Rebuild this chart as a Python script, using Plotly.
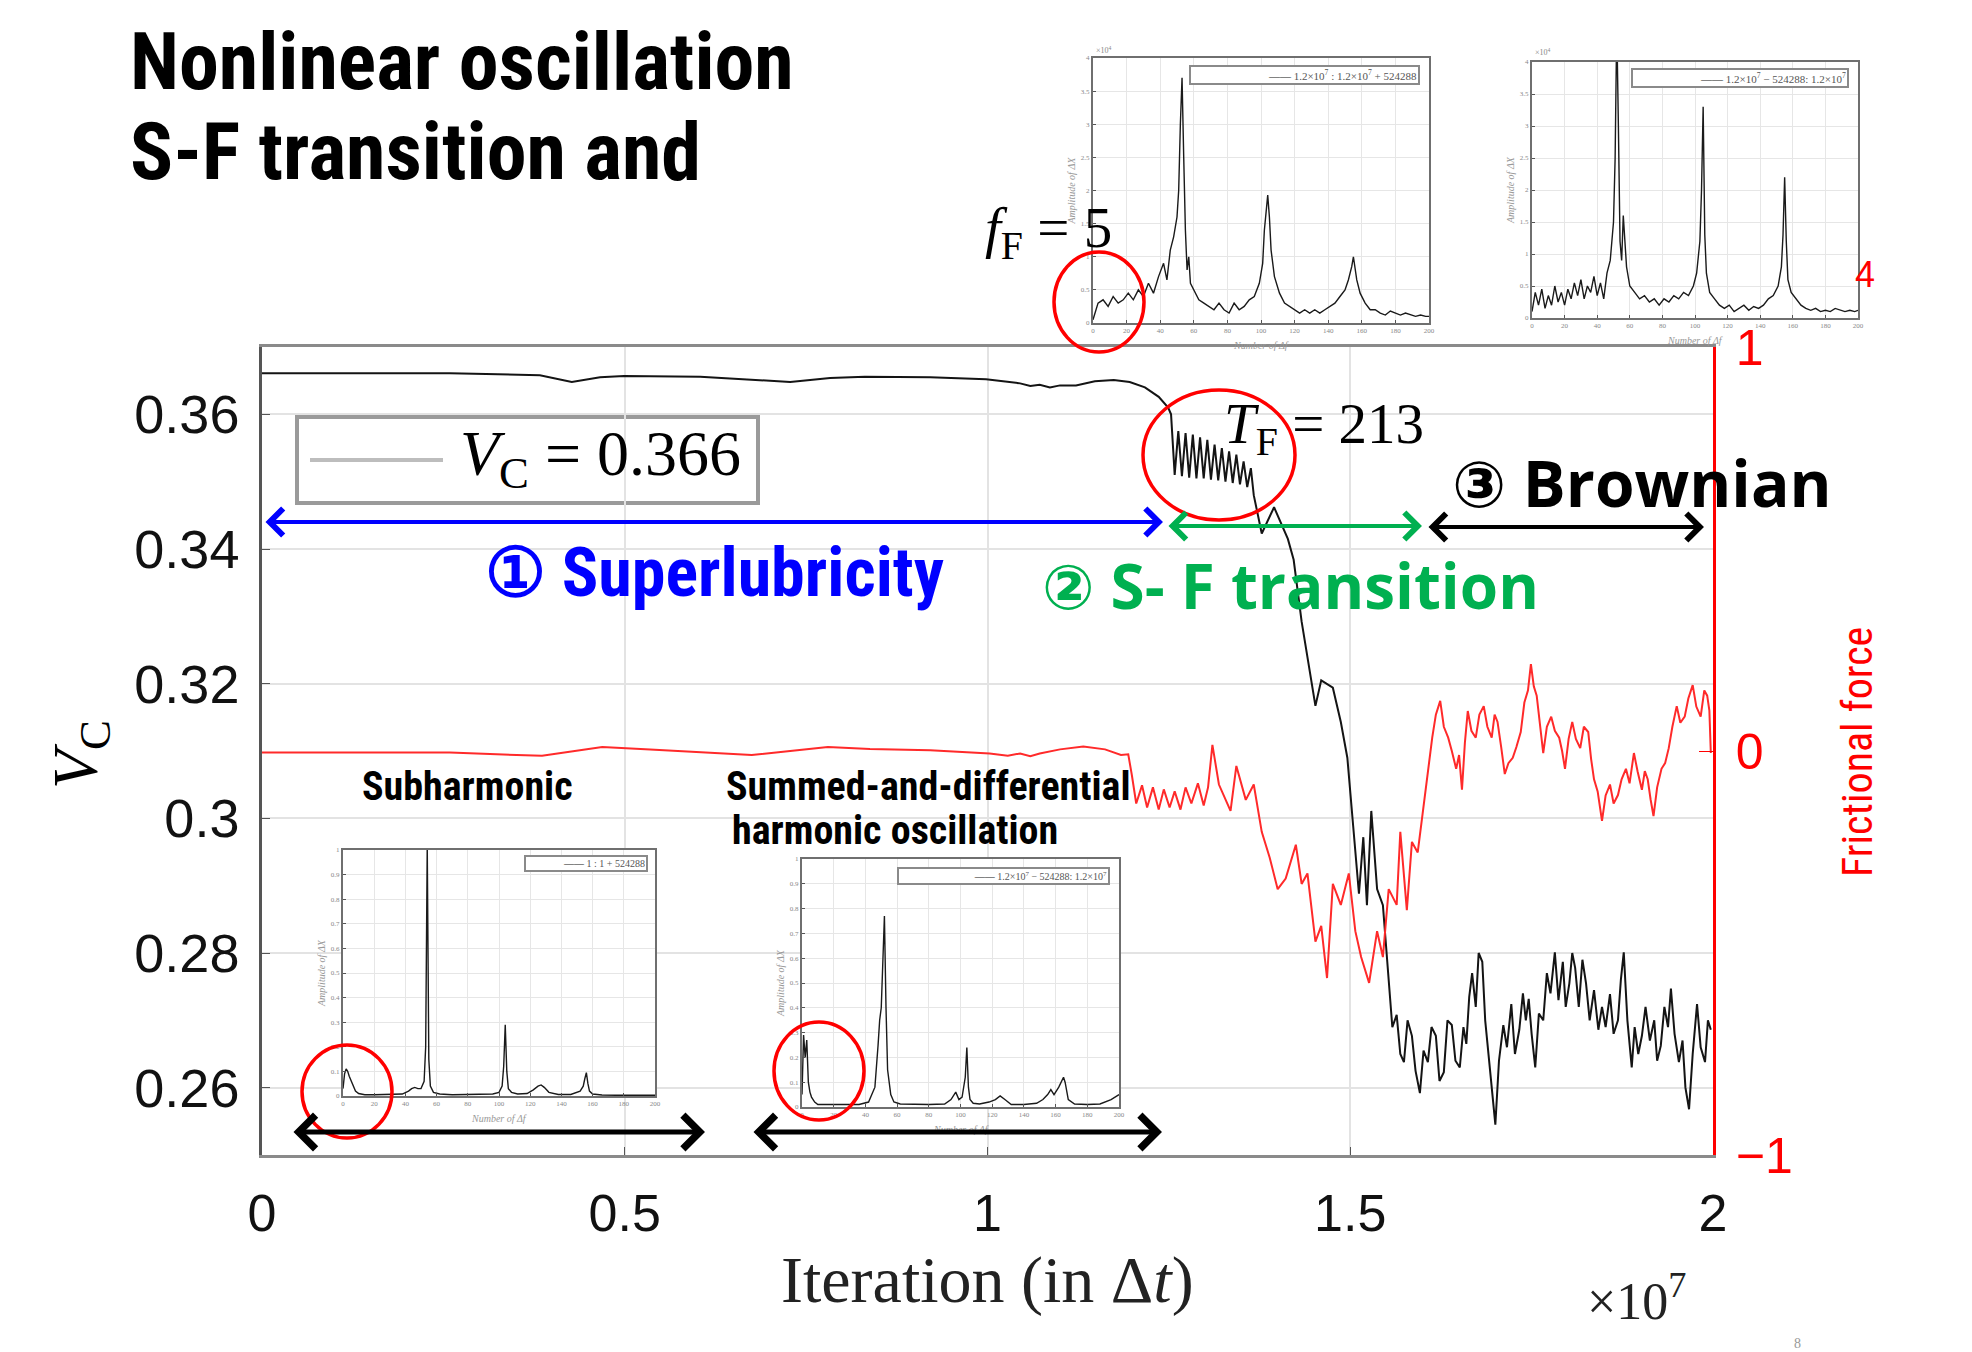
import plotly.graph_objects as go

W, H = 1972, 1352

# ---------------- data ----------------
# main time series: iteration in units of 1e7
vc_iter = [0, 0.259, 0.383, 0.427, 0.466, 0.499, 0.604, 0.673, 0.728, 0.783, 0.831, 0.921, 0.998, 1.045, 1.059, 1.072,
           1.086, 1.100, 1.122, 1.148, 1.174, 1.196, 1.217, 1.236, 1.249,
           1.253, 1.258, 1.263, 1.268, 1.273, 1.278, 1.283, 1.288, 1.293, 1.298, 1.303, 1.308, 1.313, 1.318, 1.323,
           1.328, 1.333, 1.338, 1.343, 1.348, 1.353, 1.358, 1.363, 1.367,
           1.378, 1.395, 1.414, 1.422, 1.433, 1.439, 1.452, 1.460, 1.476, 1.487, 1.496, 1.504, 1.512, 1.518, 1.523,
           1.529, 1.537, 1.545,
           1.553, 1.558, 1.564, 1.569, 1.574, 1.579, 1.585, 1.590, 1.596, 1.601, 1.607, 1.612, 1.618, 1.623, 1.629,
           1.634, 1.640, 1.645, 1.651, 1.656, 1.660, 1.664, 1.668, 1.673, 1.677, 1.682, 1.686, 1.691, 1.695, 1.700,
           1.705, 1.711, 1.716, 1.722, 1.727, 1.733, 1.738, 1.742, 1.746, 1.750, 1.755, 1.760, 1.766, 1.771, 1.776,
           1.782, 1.787, 1.793, 1.797, 1.802, 1.806, 1.810, 1.815, 1.820, 1.825, 1.830, 1.836, 1.842, 1.847, 1.852,
           1.858, 1.863, 1.869, 1.873, 1.877, 1.882, 1.888, 1.892, 1.897, 1.902, 1.907, 1.913, 1.919, 1.923, 1.928,
           1.933, 1.938, 1.942, 1.947, 1.953, 1.958, 1.962, 1.967, 1.972, 1.978, 1.983, 1.989, 1.993, 1.997]
vc_values = [0.3661, 0.3661, 0.3658, 0.3648, 0.3655, 0.3657, 0.3656, 0.3652, 0.3648, 0.3654, 0.3656, 0.3655, 0.3652,
             0.3646, 0.3642, 0.3644, 0.3640, 0.3643, 0.3643, 0.3649, 0.3651, 0.3648, 0.3640, 0.3626, 0.3610,
             0.3600, 0.3510, 0.3575, 0.3508, 0.3572, 0.3506, 0.3570, 0.3505, 0.3566, 0.3505, 0.3562, 0.3503, 0.3555,
             0.3502, 0.3550, 0.3500, 0.3545, 0.3498, 0.3540, 0.3496, 0.3530, 0.3492, 0.3520, 0.3480,
             0.3423, 0.3462, 0.3415, 0.3384, 0.3292, 0.3252, 0.3167, 0.3205, 0.3194, 0.3143, 0.3090, 0.2989, 0.2888,
             0.2972, 0.2871, 0.3011, 0.2895, 0.2871,
             0.2763, 0.2690, 0.2708, 0.2650, 0.2638, 0.2700, 0.2677, 0.2625, 0.2592, 0.2655, 0.2638, 0.2690, 0.2677,
             0.2610, 0.2623, 0.2700, 0.2693, 0.2640, 0.2630, 0.2690, 0.2665, 0.2735, 0.2770, 0.2720, 0.2800, 0.2787,
             0.2700, 0.2646, 0.2600, 0.2545, 0.2640, 0.2693, 0.2660, 0.2724, 0.2650, 0.2686, 0.2740, 0.2700, 0.2732,
             0.2680, 0.2630, 0.2710, 0.2700, 0.2770, 0.2740, 0.2801, 0.2730, 0.2787, 0.2720, 0.2755, 0.2800, 0.2778,
             0.2720, 0.2790, 0.2755, 0.2700, 0.2745, 0.2686, 0.2720, 0.2690, 0.2739, 0.2680, 0.2700, 0.2760, 0.2801,
             0.2700, 0.2630, 0.2690, 0.2650, 0.2677, 0.2720, 0.2670, 0.2700, 0.2640, 0.2662, 0.2720, 0.2690, 0.2747,
             0.2680, 0.2638, 0.2670, 0.2600, 0.2568, 0.2650, 0.2724, 0.2660, 0.2638, 0.2700, 0.2686]

ff_iter = [0, 0.259, 0.386, 0.425, 0.469, 0.535, 0.604, 0.675, 0.728, 0.780, 0.838, 0.921, 1.003, 1.028, 1.045,
           1.059, 1.072, 1.100, 1.132, 1.162, 1.184, 1.194, 1.199,
           1.205, 1.213, 1.220, 1.228, 1.236, 1.243, 1.251, 1.258, 1.266, 1.273, 1.281, 1.290, 1.298, 1.304,
           1.310, 1.319, 1.335, 1.343, 1.356, 1.367, 1.378, 1.389, 1.400, 1.411, 1.425, 1.433, 1.441, 1.452, 1.460,
           1.468, 1.476, 1.487, 1.498, 1.507, 1.515, 1.526, 1.537, 1.545, 1.553, 1.564, 1.569, 1.578, 1.585, 1.593,
           1.602,
           1.613, 1.618, 1.624, 1.629, 1.635, 1.640, 1.646, 1.650, 1.654, 1.658, 1.662, 1.667, 1.673, 1.678, 1.684,
           1.689, 1.695, 1.699, 1.703, 1.708, 1.713, 1.718, 1.724, 1.729, 1.735, 1.740, 1.745, 1.749, 1.753, 1.757,
           1.761, 1.766, 1.771, 1.777, 1.782, 1.788, 1.792, 1.796, 1.801, 1.806, 1.811, 1.817, 1.822, 1.828, 1.832,
           1.836, 1.841, 1.847, 1.852, 1.858, 1.863, 1.869, 1.874, 1.880, 1.885, 1.891, 1.896, 1.902, 1.906, 1.910,
           1.914, 1.918, 1.923, 1.929, 1.934, 1.939, 1.944, 1.950, 1.955, 1.961, 1.966, 1.972, 1.977, 1.983, 1.988,
           1.992, 1.995, 1.997]
ff_values = [-0.004, -0.004, -0.012, -0.002, 0.010, 0.004, -0.002, -0.010, 0.000, 0.010, 0.005, 0.002, -0.006, -0.012,
             -0.006, -0.013, -0.006, 0.004, 0.011, 0.004, -0.010, -0.008, -0.060,
             -0.130, -0.085, -0.140, -0.090, -0.145, -0.095, -0.140, -0.100, -0.145, -0.090, -0.130, -0.080, -0.135,
             -0.090,
             0.015, -0.083, -0.148, -0.037, -0.121, -0.083, -0.200, -0.264, -0.342, -0.316, -0.232, -0.329, -0.303,
             -0.472, -0.433, -0.562, -0.329, -0.381, -0.303, -0.446, -0.510, -0.574, -0.446, -0.510, -0.342, -0.381,
             -0.200, -0.394, -0.225, -0.251, -0.121,
             0.033, 0.090, 0.124, 0.060, 0.033, 0.000, -0.044, -0.010, -0.096, 0.020, 0.099, 0.050, 0.033, 0.090,
             0.111, 0.060, 0.033, 0.090, 0.072, 0.010, -0.057, -0.030, -0.017, 0.010, 0.047, 0.120, 0.150, 0.215,
             0.160, 0.137, 0.070, -0.005, 0.060, 0.085, 0.050, 0.033, 0.000, -0.044, 0.030, 0.072, 0.030, 0.007,
             0.060, 0.047, -0.020, -0.070, -0.100, -0.173, -0.110, -0.083, -0.130, -0.109, -0.070, -0.044, -0.080,
             -0.005, -0.050, -0.096, -0.050, -0.070, -0.120, -0.161, -0.090, -0.044, -0.030, 0.007, 0.060, 0.111,
             0.070, 0.085, 0.130, 0.163, 0.110, 0.085, 0.150, 0.137, 0.100, -0.005]

x_ticks = [0, 0.5, 1, 1.5, 2]
x_ticktext = ["0", "0.5", "1", "1.5", "2"]
vc_ticks = [0.26, 0.28, 0.30, 0.32, 0.34, 0.36]
vc_ticktext = ["0.26", "0.28", "0.3", "0.32", "0.34", "0.36"]
ff_ticks = [-1, 0, 1]
ff_ticktext = ["\u22121", "0", "1"]

# spectra (insets): Number of Δf vs amplitude
specA_f = [0, 3, 6, 9, 12, 15, 18, 21, 24, 27, 30, 33, 36, 39, 42, 44, 46, 48, 50, 51, 52, 53, 54, 55, 56, 57, 58, 60,
           63, 66, 69, 72, 75, 78, 81, 84, 87, 90, 93, 96, 99, 101, 102, 103, 104, 105, 106, 108, 111, 114, 117, 120,
           123, 126, 129, 132, 135, 138, 141, 144, 147, 150, 152, 154, 155, 156, 157, 159, 162, 165, 168, 171, 174,
           177, 180, 183, 186, 189, 192, 195, 198, 200]
specA_a = [0.05, 0.3, 0.35, 0.25, 0.4, 0.3, 0.35, 0.45, 0.35, 0.5, 0.4, 0.6, 0.45, 0.7, 0.9, 0.65, 1.1, 1.3, 1.6, 2.0,
           3.0, 3.7, 2.5, 1.4, 0.8, 1.0, 0.6, 0.5, 0.35, 0.3, 0.25, 0.2, 0.3, 0.2, 0.15, 0.3, 0.2, 0.25, 0.35, 0.4,
           0.6, 0.9, 1.4, 1.7, 1.93, 1.6, 1.1, 0.7, 0.45, 0.3, 0.25, 0.2, 0.15, 0.2, 0.15, 0.2, 0.15, 0.2, 0.25, 0.3,
           0.4, 0.5, 0.65, 0.85, 1.0, 0.85, 0.65, 0.45, 0.3, 0.2, 0.2, 0.15, 0.12, 0.18, 0.15, 0.12, 0.15, 0.12, 0.1,
           0.12, 0.1, 0.1]

specB_f = [0, 2, 4, 6, 8, 10, 12, 14, 16, 18, 20, 22, 24, 26, 28, 30, 32, 34, 36, 38, 40, 42, 44, 46, 48, 50, 51, 52,
           53, 54, 55, 56, 58, 60, 63, 66, 69, 72, 75, 78, 81, 84, 87, 90, 93, 96, 99, 101, 103, 104, 105, 106, 107,
           109, 112, 115, 118, 121, 124, 127, 130, 133, 136, 139, 142, 145, 148, 151, 153, 154, 155, 156, 157, 159,
           162, 165, 168, 171, 174, 177, 180, 183, 186, 189, 192, 195, 198, 200]
specB_a = [0.1, 0.4, 0.2, 0.45, 0.15, 0.35, 0.2, 0.5, 0.25, 0.4, 0.2, 0.45, 0.3, 0.55, 0.35, 0.6, 0.3, 0.5, 0.4, 0.65,
           0.35, 0.55, 0.3, 0.7, 0.9, 1.5, 2.5, 4.6, 3.0, 1.2, 0.9, 1.6, 0.8, 0.5, 0.4, 0.3, 0.35, 0.25, 0.3, 0.2,
           0.3, 0.25, 0.35, 0.3, 0.4, 0.35, 0.5, 0.7, 1.2, 2.0, 3.3, 1.3, 0.7, 0.4, 0.3, 0.2, 0.15, 0.2, 0.1, 0.15,
           0.2, 0.12, 0.18, 0.15, 0.2, 0.3, 0.35, 0.5, 0.8, 1.3, 2.2, 1.2, 0.6, 0.4, 0.3, 0.2, 0.15, 0.12, 0.15, 0.1,
           0.12, 0.1, 0.15, 0.12, 0.1, 0.12, 0.1, 0.12]

specC_f = [0, 1, 2, 3, 4, 6, 8, 10, 14, 20, 26, 32, 38, 42, 44, 46, 48, 50, 52, 53, 54, 55, 56, 58, 62, 70, 80, 90,
           96, 100, 102, 103, 104, 105, 106, 108, 112, 118, 122, 125, 127, 129, 132, 138, 146, 152, 154, 155, 156,
           157, 158, 160, 166, 175, 185, 195, 200]
specC_a = [0.03, 0.09, 0.11, 0.1, 0.08, 0.05, 0.02, 0.01, 0.005, 0.005, 0.005, 0.005, 0.008, 0.02, 0.03, 0.035, 0.03,
           0.03, 0.06, 0.2, 1.02, 0.15, 0.04, 0.015, 0.008, 0.005, 0.005, 0.005, 0.008, 0.015, 0.04, 0.12, 0.29, 0.1,
           0.03, 0.015, 0.008, 0.01, 0.025, 0.04, 0.045, 0.035, 0.015, 0.006, 0.006, 0.02, 0.04, 0.07, 0.095, 0.05,
           0.02, 0.008, 0.004, 0.003, 0.003, 0.003, 0.003]

specD_f = [0, 1, 2, 3, 4, 5, 6, 8, 10, 14, 20, 28, 36, 42, 46, 48, 49, 50, 51, 52, 53, 54, 56, 58, 62, 70, 80, 90, 94,
           97, 99, 101, 103, 104, 105, 106, 108, 112, 118, 122, 125, 128, 132, 140, 148, 152, 155, 157, 159, 162, 165,
           166, 168, 172, 180, 188, 195, 200]
specD_a = [0.05, 0.29, 0.2, 0.27, 0.1, 0.06, 0.04, 0.02, 0.01, 0.01, 0.008, 0.008, 0.01, 0.02, 0.08, 0.25, 0.35, 0.4,
           0.6, 0.77, 0.4, 0.15, 0.05, 0.02, 0.012, 0.01, 0.01, 0.012, 0.03, 0.06, 0.03, 0.04, 0.12, 0.24, 0.08, 0.03,
           0.015, 0.012, 0.02, 0.03, 0.045, 0.03, 0.01, 0.01, 0.015, 0.03, 0.05, 0.07, 0.05, 0.08, 0.12, 0.1, 0.03,
           0.012, 0.01, 0.012, 0.03, 0.05]

# ---------------- style ----------------
SANS = "Liberation Sans, Arial, sans-serif"
NARROW = "Liberation Sans Narrow, Arial Narrow, Roboto Condensed, Liberation Sans, sans-serif"
SERIF = "Liberation Serif, Times New Roman, serif"
WIDE = "Open Sans, Noto Sans, DejaVu Sans, sans-serif"
RED = "#ff0000"
BLUE = "#0000ff"
GREEN = "#00b050"


def PX(px):
    return px / W


def PY(py):
    return 1 - py / H


fig = go.Figure()
fig.add_trace(go.Scatter(x=ff_iter, y=ff_values, xaxis="x", yaxis="y2", mode="lines",
                         line=dict(color="#ff2a2a", width=2), showlegend=False, hoverinfo="skip"))
fig.add_trace(go.Scatter(x=vc_iter, y=vc_values, xaxis="x", yaxis="y", mode="lines",
                         line=dict(color="#141414", width=2), showlegend=False, hoverinfo="skip"))

insets = [
    (3, specA_f, specA_a, (1093, 1429), (58, 323), [0, 4], 0.5),
    (4, specB_f, specB_a, (1532, 1858), (62, 318), [0, 4], 0.5),
    (5, specC_f, specC_a, (343, 655), (850, 1096), [0, 1], 0.1),
    (6, specD_f, specD_a, (802, 1119), (859, 1107), [0, 1], 0.1),
]

layout = dict(
    width=W, height=H, margin=dict(l=0, r=0, t=0, b=0, pad=0, autoexpand=False),
    paper_bgcolor="white", plot_bgcolor="white", showlegend=False,
    xaxis=dict(domain=[PX(262), PX(1713)], anchor="y", range=[0, 2], tickvals=x_ticks, ticktext=x_ticktext,
               tickfont=dict(family=SANS, size=52, color="#111"), ticklabelstandoff=11, automargin=False,
               showgrid=True, gridcolor="#e3e3e3", gridwidth=2, zeroline=False,
               showline=True, linecolor="#8a8a8a", linewidth=3, mirror=True,
               ticks="inside", ticklen=8, tickcolor="#555"),
    yaxis=dict(domain=[PY(1155), PY(347)], anchor="x", range=[0.25, 0.37], tickvals=vc_ticks, automargin=False,
               ticktext=vc_ticktext, tickfont=dict(family=SANS, size=54, color="#111"), ticklabelstandoff=9,
               showgrid=True, gridcolor="#e3e3e3", gridwidth=2, zeroline=False,
               showline=True, linecolor="#555", linewidth=2.5, ticks="inside", ticklen=8, tickcolor="#555"),
    yaxis2=dict(overlaying="y", side="right", anchor="x", range=[-1, 1], tickvals=ff_ticks, ticktext=ff_ticktext,
                tickfont=dict(family=SANS, size=50, color=RED), ticklabelstandoff=10, showgrid=False,
                automargin=False,
                zeroline=False, showline=True, linecolor=RED, linewidth=2.5, ticks="inside", ticklen=14,
                tickcolor=RED),
)

for n, fx, fa, (xl, xr), (yt, yb), yr, ydt in insets:
    fig.add_trace(go.Scatter(x=fx, y=fa, xaxis=f"x{n}", yaxis=f"y{n}", mode="lines",
                             line=dict(color="#1a1a1a", width=1.4), showlegend=False, hoverinfo="skip"))
    layout[f"xaxis{n}"] = dict(domain=[PX(xl), PX(xr)], anchor=f"y{n}", range=[0, 200], dtick=20,
                               automargin=False,
                               showgrid=True, gridcolor="#e6e6e6", gridwidth=1, zeroline=False,
                               showline=True, linecolor="#6f6f6f", linewidth=2, mirror=True,
                               ticks="inside", ticklen=3, tickcolor="#555",
                               tickfont=dict(family=SERIF, size=7, color="#888"))
    layout[f"yaxis{n}"] = dict(domain=[PY(yb), PY(yt)], anchor=f"x{n}", range=yr, dtick=ydt,
                               automargin=False,
                               showgrid=True, gridcolor="#e6e6e6", gridwidth=1, zeroline=False,
                               showline=True, linecolor="#6f6f6f", linewidth=2, mirror=True,
                               ticks="inside", ticklen=3, tickcolor="#555",
                               tickfont=dict(family=SERIF, size=7, color="#888"))

fig.update_layout(**layout)

ann = []


def txt(s, x, y, size, color="black", family=SANS, xanchor="center", yanchor="middle", angle=0, bold=False):
    return dict(text=s, x=PX(x), y=PY(y), xref="paper", yref="paper", showarrow=False,
                font=dict(size=size, color=color, family=family, weight="bold" if bold else "normal"),
                xanchor=xanchor, yanchor=yanchor, textangle=angle)


# titles
ann.append(txt("Nonlinear oscillation", 128, 62, 80, family=NARROW, xanchor="left", bold=True))
ann.append(txt("S-F transition and", 128, 152, 80, family=NARROW, xanchor="left", bold=True))
# region labels
ann.append(txt("\u2460 Superlubricity", 714, 573, 68, color=BLUE, family=NARROW, bold=True))
ann.append(txt("\u2461 S- F transition", 1290, 585, 62, color=GREEN, family=WIDE, bold=True))
ann.append(txt("\u2462 Brownian", 1642, 482, 64, color="black", family=WIDE, bold=True))
ann.append(txt("Subharmonic", 467, 787, 40, family=NARROW, bold=True))
ann.append(txt("Summed-and-differential", 928, 786, 40, family=NARROW, bold=True))
ann.append(txt("harmonic oscillation", 895, 830, 40, family=NARROW, bold=True))
# math labels
ann.append(txt("<i>f</i><sub>F</sub> = 5", 983, 232, 57, family=SERIF, xanchor="left"))
ann.append(txt("<i>T</i><sub>F</sub> = 213", 1222, 428, 57, family=SERIF, xanchor="left"))
# axis titles
ann.append(txt("<i>V</i><sub>C</sub>", 80, 755, 64, family=SERIF, angle=-90))
ann.append(txt("Iteration (in \u0394<i>t</i>)", 987, 1280, 66, color="#222", family=SERIF))
ann.append(txt("\u00d710<sup>7</sup>", 1637, 1297, 52, color="#222", family=SERIF))
ann.append(txt("Frictional force", 1858, 752, 42, color=RED, family=NARROW, angle=-90))
ann.append(txt("4", 1865, 274, 36, color=RED, family=SANS))
ann.append(txt("8", 1797, 1343, 14, color="#999", family=SERIF))

# inset legends and small labels
inset_leg = [
    ("1.2\u00d710<sup>7</sup> : 1.2\u00d710<sup>7</sup> + 524288", 1420, 65, 225, 11),
    ("1.2\u00d710<sup>7</sup> \u2212 524288: 1.2\u00d710<sup>7</sup>", 1849, 68, 212, 11),
    ("1 : 1 + 524288", 648, 855, 118, 10),
    ("1.2\u00d710<sup>7</sup> \u2212 524288: 1.2\u00d710<sup>7</sup>", 1110, 867, 207, 10),
]
for s, xr_, yt_, wd, fs in inset_leg:
    ann.append(dict(text="<span style='color:#222'>\u2014\u2014</span> " + s, x=PX(xr_), y=PY(yt_),
                    xref="paper", yref="paper", showarrow=False, xanchor="right", yanchor="top",
                    width=wd, align="right", bgcolor="white", bordercolor="#8a8a8a", borderwidth=2, borderpad=1,
                    font=dict(size=fs, family=SERIF, color="#555")))

for n, fx, fa, (xl, xr), (yt, yb), yr, ydt in insets:
    ann.append(txt("<i>Number of \u0394f</i>", (xl + xr) / 2, yb + 22, 10, color="#999", family=SERIF))
    ann.append(txt("<i>Amplitude of \u0394X</i>", xl - 22, (yt + yb) / 2, 10, color="#999", family=SERIF,
                   angle=-90))
ann.append(txt("\u00d710<sup>4</sup>", 1104, 50, 8, color="#888", family=SERIF))
ann.append(txt("\u00d710<sup>4</sup>", 1543, 52, 8, color="#888", family=SERIF))


def darrow(x0, x1, y, color, width, size=1.3):
    return dict(x=PX(x1), y=PY(y), ax=-(x1 - x0), ay=0, xref="paper", yref="paper", axref="pixel",
                ayref="pixel", showarrow=True, arrowhead=4, startarrowhead=4, arrowside="end+start",
                arrowsize=size, startarrowsize=size, arrowwidth=width, arrowcolor=color, text="")


ann.append(darrow(264, 1163, 522, BLUE, 4))
ann.append(darrow(1167, 1422, 526, GREEN, 4))
ann.append(darrow(1427, 1704, 527, "black", 4))
ann.append(darrow(292, 705, 1132, "black", 5))
ann.append(darrow(752, 1162, 1132, "black", 5))

# legend text (drawn last so it sits on the legend box)
ann.append(txt("<i>V</i><sub>C</sub> = 0.366", 600, 458, 64, family=SERIF))

shapes = []
# legend box
shapes.append(dict(type="rect", xref="paper", yref="paper", x0=PX(297), x1=PX(758), y0=PY(503), y1=PY(417),
                   line=dict(color="#9a9a9a", width=4), fillcolor="white", layer="below"))
shapes.append(dict(type="line", xref="paper", yref="paper", x0=PX(310), x1=PX(443), y0=PY(460), y1=PY(460),
                   line=dict(color="#bdbdbd", width=4), layer="above"))
# red circles
for (x0, x1, y0, y1) in [(1054, 1144, 252, 352), (1143, 1295, 390, 520), (302, 392, 1045, 1138),
                         (774, 864, 1022, 1120)]:
    shapes.append(dict(type="circle", xref="paper", yref="paper", x0=PX(x0), x1=PX(x1), y0=PY(y1), y1=PY(y0),
                       line=dict(color=RED, width=3.5), layer="above"))

fig.update_layout(shapes=shapes, annotations=ann)

fig.write_html("out.html")
